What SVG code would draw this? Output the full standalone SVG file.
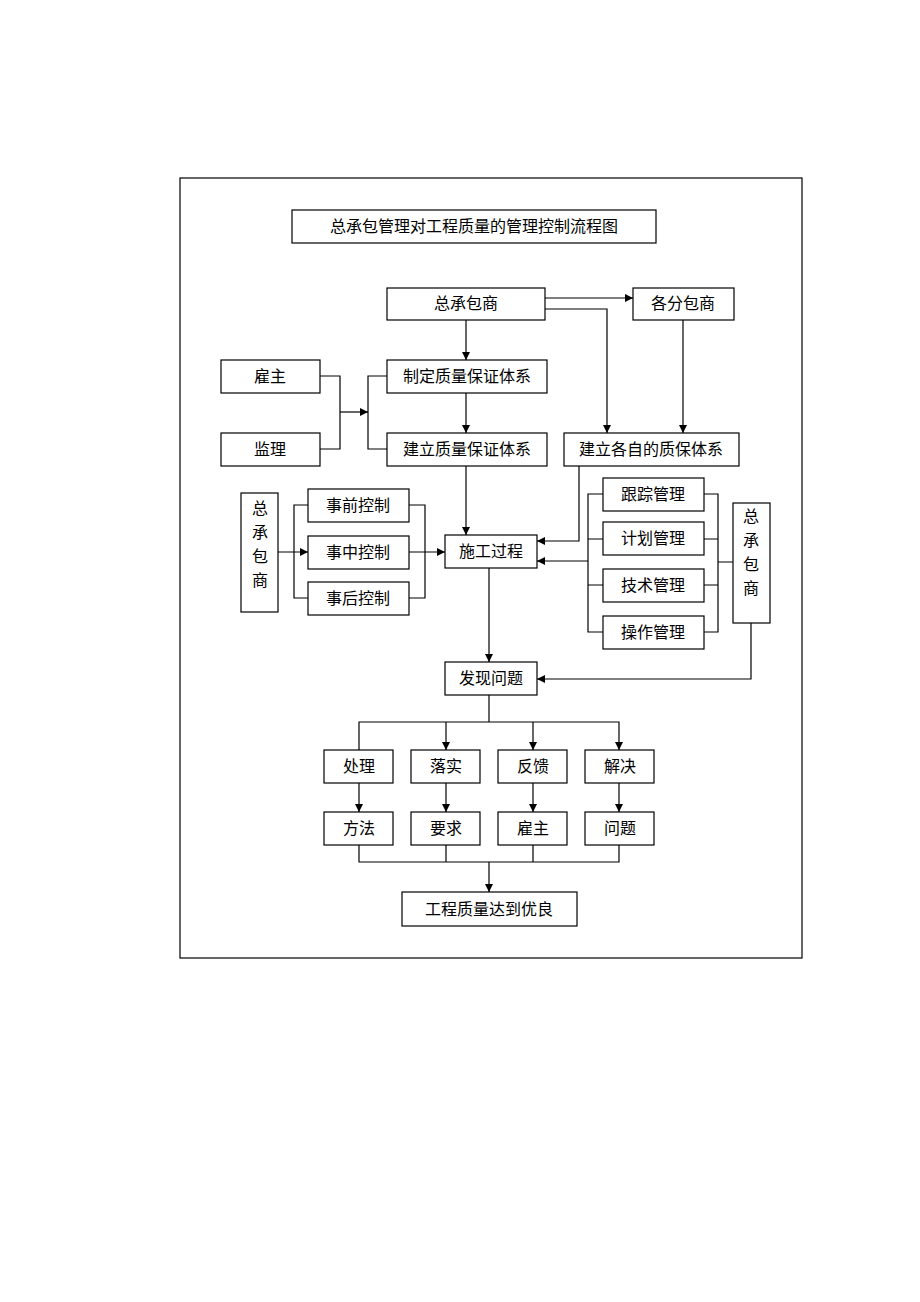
<svg xmlns="http://www.w3.org/2000/svg" width="920" height="1302" viewBox="0 0 920 1302">
<style>
rect{fill:#fff;stroke:#000;stroke-width:1.2}
text{font-family:"Noto Sans CJK SC",sans-serif;font-size:16px;text-anchor:middle;fill:#000}
.c path,.c line{fill:none;stroke:#000;stroke-width:1.2}
</style>
<defs><marker id="a" viewBox="0 0 10 10" refX="10" refY="5" markerWidth="8" markerHeight="8" markerUnits="userSpaceOnUse" orient="auto"><path d="M0,0L10,5L0,10z" fill="#000"/></marker></defs>
<rect x="180" y="178" width="622" height="780" fill="none"/>
<g class="c">
<path d="M545,298H633" marker-end="url(#a)"/>
<path d="M545,309H607V433" marker-end="url(#a)"/>
<path d="M683,320V433" marker-end="url(#a)"/>
<path d="M466,320V360" marker-end="url(#a)"/>
<path d="M466,393V433" marker-end="url(#a)"/>
<path d="M320,376H340V449H320"/>
<path d="M340,412H368" marker-end="url(#a)"/>
<path d="M387,376H368V449H387"/>
<path d="M466,466V535" marker-end="url(#a)"/>
<path d="M579,466V541H537" marker-end="url(#a)"/>
<path d="M308,505H294V598H308"/>
<path d="M260,552H308" marker-end="url(#a)"/>
<path d="M409,505H425V598H409"/>
<path d="M409,552H445" marker-end="url(#a)"/>
<path d="M603,494H588V632H603M588,539H603M588,585H603"/>
<path d="M588,561H537" marker-end="url(#a)"/>
<path d="M704,494H718V632H704M704,539H718M704,585H718M718,562H733"/>
<path d="M489,568V662" marker-end="url(#a)"/>
<path d="M751,623V679H537" marker-end="url(#a)"/>
<path d="M489,695V722M359,750V722H619V750" marker-end="url(#a)"/>
<path d="M446,722V750" marker-end="url(#a)"/>
<path d="M533,722V750" marker-end="url(#a)"/>
<path d="M359,783V812" marker-end="url(#a)"/>
<path d="M446,783V812" marker-end="url(#a)"/>
<path d="M533,783V812" marker-end="url(#a)"/>
<path d="M619,783V812" marker-end="url(#a)"/>
<path d="M359,845V862H619V845M446,845V862M533,845V862"/>
<path d="M489,862V892" marker-end="url(#a)"/>
</g>
<g id="title"><rect x="292" y="210" width="364" height="33"/><text x="474" y="232">总承包管理对工程质量的管理控制流程图</text></g>
<g id="zcb"><rect x="387" y="288" width="158" height="32"/><text x="466" y="309">总承包商</text></g>
<g id="gfb"><rect x="633" y="288" width="101" height="32"/><text x="683" y="309">各分包商</text></g>
<g id="gz"><rect x="221" y="360" width="99" height="33"/><text x="270" y="382">雇主</text></g>
<g id="jl"><rect x="221" y="433" width="99" height="33"/><text x="270" y="455">监理</text></g>
<g id="zd"><rect x="387" y="360" width="160" height="33"/><text x="467" y="382">制定质量保证体系</text></g>
<g id="jlzl"><rect x="387" y="433" width="160" height="33"/><text x="467" y="455">建立质量保证体系</text></g>
<g id="jlgz"><rect x="564" y="433" width="175" height="33"/><text x="651" y="455">建立各自的质保体系</text></g>
<g id="zcbL"><rect x="241" y="493" width="37" height="119"/><text x="260" y="514">总</text><text x="260" y="538">承</text><text x="260" y="562">包</text><text x="260" y="586">商</text></g>
<g id="sq"><rect x="308" y="489" width="101" height="33"/><text x="358" y="511">事前控制</text></g>
<g id="sz"><rect x="308" y="536" width="101" height="33"/><text x="358" y="558">事中控制</text></g>
<g id="sh"><rect x="308" y="582" width="101" height="33"/><text x="358" y="604">事后控制</text></g>
<g id="sg"><rect x="445" y="535" width="92" height="33"/><text x="491" y="557">施工过程</text></g>
<g id="gzgl"><rect x="603" y="478" width="101" height="33"/><text x="653" y="500">跟踪管理</text></g>
<g id="jhgl"><rect x="603" y="522" width="101" height="33"/><text x="653" y="544">计划管理</text></g>
<g id="jsgl"><rect x="603" y="569" width="101" height="33"/><text x="653" y="591">技术管理</text></g>
<g id="czgl"><rect x="603" y="616" width="101" height="33"/><text x="653" y="638">操作管理</text></g>
<g id="zcbR"><rect x="733" y="503" width="37" height="120"/><text x="751" y="522">总</text><text x="751" y="546">承</text><text x="751" y="570">包</text><text x="751" y="594">商</text></g>
<g id="fx"><rect x="445" y="662" width="92" height="33"/><text x="491" y="684">发现问题</text></g>
<g id="cl"><rect x="324" y="750" width="69" height="33"/><text x="359" y="772">处理</text></g>
<g id="ls"><rect x="411" y="750" width="69" height="33"/><text x="446" y="772">落实</text></g>
<g id="fk"><rect x="498" y="750" width="69" height="33"/><text x="533" y="772">反馈</text></g>
<g id="jj"><rect x="585" y="750" width="69" height="33"/><text x="620" y="772">解决</text></g>
<g id="ff"><rect x="324" y="812" width="69" height="33"/><text x="359" y="834">方法</text></g>
<g id="yq"><rect x="411" y="812" width="69" height="33"/><text x="446" y="834">要求</text></g>
<g id="gz2"><rect x="498" y="812" width="69" height="33"/><text x="533" y="834">雇主</text></g>
<g id="wt"><rect x="585" y="812" width="69" height="33"/><text x="620" y="834">问题</text></g>
<g id="yl"><rect x="402" y="892" width="175" height="34"/><text x="489" y="915">工程质量达到优良</text></g>
</svg>
